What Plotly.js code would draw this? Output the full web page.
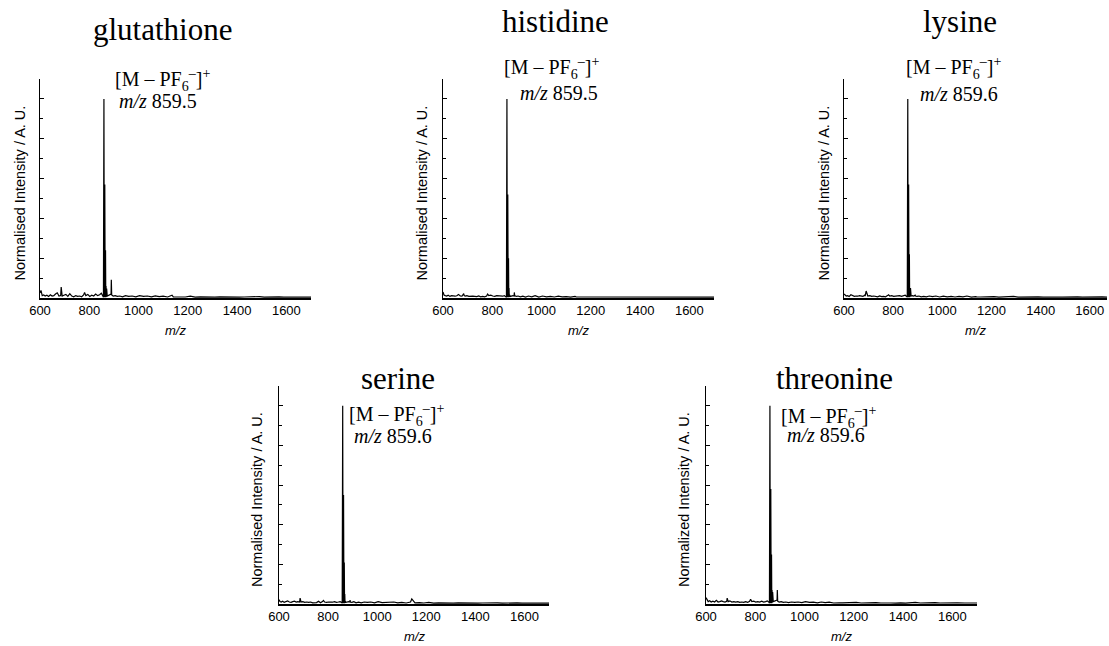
<!DOCTYPE html>
<html>
<head>
<meta charset="utf-8">
<script src="https://cdn.plot.ly/plotly-3.0.1.min.js"></script>
<style>html,body{margin:0;padding:0;background:#fff;}#chart{width:1109px;height:646px;}</style>
</head>
<body>
<div id="chart"></div>
<script>
// ---- data ----
const compounds = ['glutathione', 'histidine', 'lysine', 'serine', 'threonine'];
const peakMz = ['859.5', '859.5', '859.6', '859.6', '859.6'];
const yTitles = ['Normalised Intensity / A. U.', 'Normalised Intensity / A. U.', 'Normalised Intensity / A. U.',
                 'Normalised Intensity / A. U.', 'Normalized Intensity / A. U.'];
const xTickVals = [600, 800, 1000, 1200, 1400, 1600];

// shared m/z sampling of the spectra
const spectrumMz = [
  600, 604, 609, 615, 621, 628, 635, 642, 649, 656,
  663, 670, 677, 684, 686, 690, 697, 705, 713, 721,
  729, 737, 745, 753, 761, 769, 777, 781, 786, 794,
  802, 810, 818, 826, 834, 842, 849, 855, 857.5, 859.5,
  861, 863, 864.5, 866, 867, 868, 869, 870.5, 873, 878,
  884, 888.5, 889.5, 891, 897, 905, 914, 924, 935, 947,
  960, 974, 989, 1004, 1020, 1036, 1052, 1068, 1084, 1100,
  1118, 1136, 1141, 1154, 1172, 1190, 1210, 1230, 1250, 1270,
  1290, 1310, 1330, 1350, 1370, 1390, 1410, 1430, 1450, 1470,
  1490, 1510, 1530, 1550, 1570, 1590, 1620, 1650, 1680, 1700
];

const glutathioneInt = [
  .025, .038, .012, .015, .010, .014, .008, .016, .010, .012,
  .020, .026, .010, .012, .055, .010, .014, .018, .008, .022,
  .010, .006, .012, .008, .010, .006, .015, .028, .012, .018,
  .008, .014, .010, .020, .012, .016, .024, .010, .004, 1.0,
  .004, .57, .004, .24, .004, .06, .006, .048, .010, .012,
  .016, .020, .092, .015, .010, .012, .008, .010, .006, .012,
  .008, .010, .006, .012, .008, .010, .006, .011, .007, .009,
  .005, .014, .006, .006, .008, .005, .009, .004, .006, .005,
  .007, .004, .006, .005, .004, .006, .004, .005, .006, .004,
  .007, .004, .005, .004, .006, .004, .005, .004, .005, .004
];
const histidineInt = [
  .030, .015, .012, .010, .014, .008, .012, .010, .009, .011,
  .018, .010, .009, .022, .012, .010, .012, .008, .010, .009,
  .008, .007, .010, .006, .008, .006, .010, .020, .012, .014,
  .010, .008, .012, .010, .008, .009, .012, .008, .004, 1.0,
  .004, .52, .004, .20, .004, .05, .006, .015, .008, .010,
  .012, .010, .028, .012, .008, .010, .006, .009, .005, .010,
  .006, .012, .005, .010, .006, .008, .005, .009, .006, .007,
  .004, .008, .005, .005, .006, .004, .007, .004, .005, .004,
  .006, .004, .005, .004, .006, .004, .005, .004, .005, .004,
  .005, .004, .006, .004, .005, .004, .006, .004, .005, .004
];
const lysineInt = [
  .020, .014, .010, .012, .008, .016, .010, .008, .010, .009,
  .012, .010, .008, .014, .010, .035, .010, .012, .008, .010,
  .009, .006, .010, .007, .008, .006, .012, .016, .010, .012,
  .008, .010, .009, .012, .008, .010, .014, .008, .004, 1.0,
  .004, .57, .004, .22, .004, .05, .008, .050, .010, .012,
  .010, .012, .014, .010, .008, .010, .006, .008, .006, .010,
  .007, .010, .005, .009, .006, .008, .005, .008, .006, .010,
  .004, .007, .005, .005, .006, .004, .007, .004, .005, .004,
  .008, .004, .005, .004, .005, .006, .004, .005, .004, .005,
  .004, .005, .004, .006, .004, .005, .004, .006, .004, .005
];
const serineInt = [
  .022, .012, .010, .014, .008, .012, .016, .010, .008, .012,
  .014, .010, .012, .010, .030, .010, .012, .008, .010, .008,
  .010, .006, .008, .007, .014, .006, .012, .018, .010, .008,
  .010, .008, .009, .012, .008, .010, .012, .008, .004, 1.0,
  .004, .55, .004, .21, .004, .05, .006, .012, .008, .010,
  .012, .010, .020, .010, .008, .012, .006, .009, .006, .010,
  .008, .010, .006, .012, .007, .008, .006, .010, .006, .008,
  .005, .010, .026, .006, .007, .005, .008, .004, .006, .005,
  .006, .004, .006, .005, .004, .006, .004, .005, .006, .004,
  .006, .004, .005, .004, .006, .004, .005, .004, .005, .004
];
const threonineInt = [
  .032, .020, .012, .016, .010, .014, .010, .018, .010, .012,
  .016, .012, .010, .014, .030, .012, .016, .010, .012, .010,
  .012, .008, .010, .008, .012, .008, .014, .024, .012, .014,
  .010, .012, .010, .014, .010, .012, .016, .010, .004, 1.0,
  .004, .58, .004, .25, .004, .07, .008, .060, .012, .014,
  .015, .020, .070, .014, .010, .012, .008, .010, .007, .010,
  .008, .010, .007, .012, .008, .009, .006, .010, .007, .009,
  .005, .008, .006, .006, .007, .005, .008, .005, .006, .005,
  .007, .005, .006, .005, .004, .006, .004, .006, .008, .005,
  .006, .005, .007, .005, .006, .004, .006, .005, .006, .005
];
const intensities = [glutathioneInt, histidineInt, lysineInt, serineInt, threonineInt];

// ---- layout (pixel geometry of each panel) ----
const W = 1109, H = 646;
const panels = [
  {x0: 40,  x1: 311,  y0: 79,  y1: 298, xmax: 1700, title: [162, 30], ion: [113, 80], mzl: [117, 101], ytl: 19},
  {x0: 443, x1: 714,  y0: 79,  y1: 298, xmax: 1700, title: [555, 22], ion: [502, 68], mzl: [518, 93],  ytl: 421},
  {x0: 844, x1: 1107, y0: 79,  y1: 298, xmax: 1670, title: [960, 22], ion: [904, 68], mzl: [918, 94],  ytl: 823},
  {x0: 279, x1: 549,  y0: 386, y1: 604, xmax: 1700, title: [398, 378], ion: [347, 415], mzl: [352, 436], ytl: 257},
  {x0: 706, x1: 977,  y0: 386, y1: 604, xmax: 1700, title: [834, 378], ion: [779, 417], mzl: [785, 435], ytl: 684}
];
const px = v => v / W, py = v => 1 - v / H;

const serif = 'Liberation Serif, Times New Roman, serif';
const sans = 'Liberation Sans, Arial, sans-serif';

const traces = [];
const layout = {
  width: W, height: H,
  margin: {l: 0, r: 0, t: 0, b: 0},
  paper_bgcolor: '#fff', plot_bgcolor: 'rgba(0,0,0,0)',
  showlegend: false,
  annotations: []
};

panels.forEach((p, i) => {
  const n = i + 1;
  const xa = 'xaxis' + (n === 1 ? '' : n), ya = 'yaxis' + (n === 1 ? '' : n);
  const xr = 'x' + (n === 1 ? '' : n), yr = 'y' + (n === 1 ? '' : n);
  const ys = intensities[i];
  const len = Math.min(spectrumMz.length, ys.length);
  traces.push({
    type: 'scatter', mode: 'lines',
    x: spectrumMz.slice(0, len), y: ys.slice(0, len),
    xaxis: xr, yaxis: yr,
    line: {color: '#000', width: 1.2},
    hoverinfo: 'skip'
  });
  layout[xa] = {
    domain: [px(p.x0), px(p.x1)], anchor: yr,
    range: [600, p.xmax], showgrid: false, zeroline: false,
    showline: true, linecolor: '#000', linewidth: 1.5,
    ticks: '', tickvals: xTickVals, ticktext: xTickVals.map(String),
    tickfont: {family: sans, size: 13, color: '#000'}
  };
  layout[ya] = {
    domain: [py(p.y1), py(p.y0)], anchor: xr,
    range: [0, 1.1], showgrid: false, zeroline: false,
    showline: true, linecolor: '#000', linewidth: 1.5,
    ticks: 'inside', ticklen: 4, tickwidth: 1, tickcolor: '#000',
    tick0: 0, dtick: 0.2, showticklabels: false,
    minor: {ticks: 'inside', ticklen: 2.5, tickwidth: 1, tickcolor: '#000', dtick: 0.1, tick0: 0, showgrid: false}
  };
  // panel title
  layout.annotations.push({
    xref: 'paper', yref: 'paper', x: px(p.title[0]), y: py(p.title[1]),
    xanchor: 'center', yanchor: 'middle', showarrow: false,
    text: compounds[i], font: {family: serif, size: 31, color: '#000'}
  });
  // ion label
  layout.annotations.push({
    xref: 'paper', yref: 'paper', x: px(p.ion[0]), y: py(p.ion[1]),
    xanchor: 'left', yanchor: 'middle', showarrow: false,
    text: '[M \u2013 PF<sub>6</sub><sup>\u2013</sup>]<sup>+</sup>',
    font: {family: serif, size: 20, color: '#000'}
  });
  layout.annotations.push({
    xref: 'paper', yref: 'paper', x: px(p.mzl[0]), y: py(p.mzl[1]),
    xanchor: 'left', yanchor: 'middle', showarrow: false,
    text: '<i>m/z</i> ' + peakMz[i],
    font: {family: serif, size: 20, color: '#000'}
  });
  // y-axis title
  layout.annotations.push({
    xref: 'paper', yref: 'paper', x: px(p.ytl), y: py((p.y0 + p.y1) / 2 + 5),
    xanchor: 'center', yanchor: 'middle', showarrow: false, textangle: -90,
    text: yTitles[i], font: {family: sans, size: 14.5, color: '#000'}
  });
  // x-axis title
  layout.annotations.push({
    xref: 'paper', yref: 'paper', x: px((p.x0 + p.x1) / 2), y: py(p.y1 + 32),
    xanchor: 'center', yanchor: 'middle', showarrow: false,
    text: '<i>m/z</i>', font: {family: sans, size: 13, color: '#000'}
  });
});

Plotly.newPlot('chart', traces, layout, {displayModeBar: false, staticPlot: true});
</script>
</body>
</html>
